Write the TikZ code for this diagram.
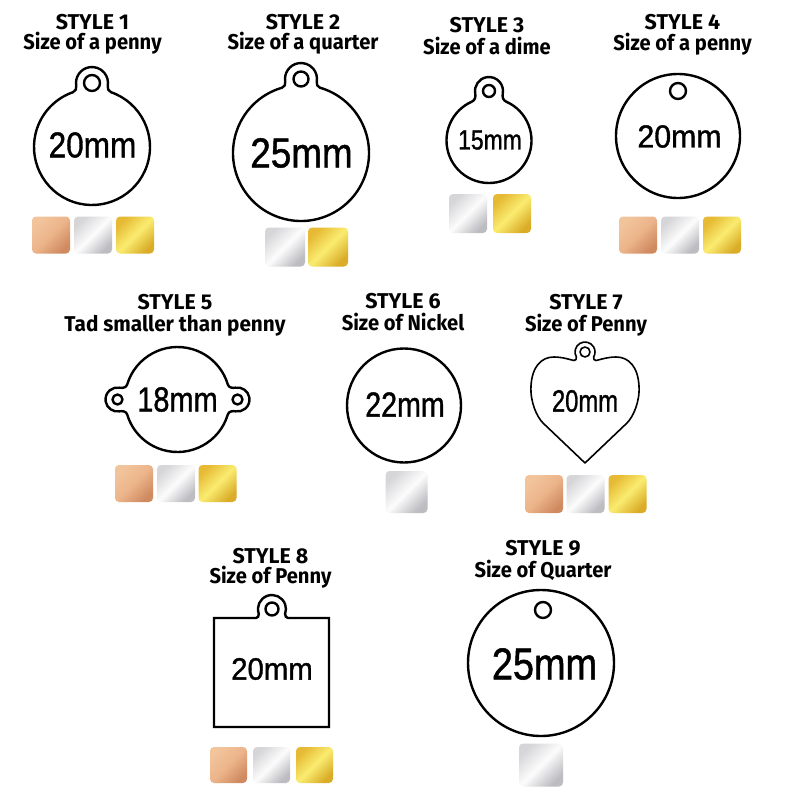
\documentclass[tikz,border=0pt]{standalone}
\usepackage{fontspec}
\newfontfamily\titlefont{Fira Sans}
\newfontfamily\sizefont{Liberation Sans}[FakeBold=1.2]

\definecolor{cuA}{RGB}{242,196,156}
\definecolor{cuB}{RGB}{236,180,138}
\definecolor{cuC}{RGB}{208,138,96}
\definecolor{agA}{RGB}{214,214,217}
\definecolor{agB}{RGB}{252,252,252}
\definecolor{agC}{RGB}{188,188,193}
\definecolor{auA}{RGB}{230,186,52}
\definecolor{auB}{RGB}{250,236,112}
\definecolor{auC}{RGB}{218,172,40}

\tikzset{
  pics/pendant/.style args={#1/#2/#3/#4}{code={
    \pgfmathsetmacro\al{asin((#3+3)/#1)}
    \pgfmathsetmacro\lx{-#3*cos(10)}
    \pgfmathsetmacro\ly{#2-#3*sin(10)}
    \pgfmathsetmacro\oa{180-\al}
    \draw[tagline] (90+\al:#1) to[out=\al,in=-80] (\lx,\ly)
      arc[start angle=190,end angle=-10,radius=#3]
      to[out=-100,in=\oa] (90-\al:#1)
      arc[start angle=90-\al,end angle=-270+\al,radius=#1] -- cycle;
    \draw[tagline] (0,#2) circle[radius=#4];
  }}
}

\begin{document}
\begin{tikzpicture}[x=1bp,y=1bp,
    tagline/.style={line width=2.4bp,line join=round},
    heartline/.style={line width=1.6bp,line join=round},
    title/.style={anchor=base,inner sep=0,font=\titlefont\bfseries\fontsize{21.5}{24}\selectfont},
    sub/.style={title,xscale=0.94},
    mmlabel/.style args={#1/#2}{inner sep=0,xscale=#2,font=\sizefont\fontsize{#1}{#1}\selectfont},
    metal/.style={rounded corners=4bp,minimum width=38bp,minimum height=37bp,inner sep=0},
    copper/.style={metal,top color=cuA,bottom color=cuC,middle color=cuB,shading angle=45},
    silver/.style={metal,top color=agA,bottom color=agC,middle color=agB,shading angle=45},
    gold/.style={metal,top color=auA,bottom color=auC,middle color=auB,shading angle=45}]
  \useasboundingbox (0,0) rectangle (794,-794);
  \fill[white] (0,0) rectangle (794,-794);

  % style 1
  \node[title] (t1) at (92.5,-30) {STYLE 1};
  \node[sub]   (s1) at (92.5,-50) {Size of a penny};
  \pic (p1) at (92,-147) {pendant=58/64/16/8};
  \node[mmlabel=36/0.88] (m1) at (92.5,-145) {20mm};
  \node[copper] (c1a) at (51,-235)  {};
  \node[silver] (c1b) at (93,-235)  {};
  \node[gold]   (c1c) at (135,-235) {};

  % style 2
  \node[title] (t2) at (303,-30) {STYLE 2};
  \node[sub]   (s2) at (303,-50) {Size of a quarter};
  \pic (p2) at (301,-153) {pendant=68/74/16/7.5};
  \node[mmlabel=42/0.88] (m2) at (301.5,-153) {25mm};
  \node[silver,minimum width=40bp,minimum height=39bp] (c2b) at (285,-247) {};
  \node[gold,minimum width=40bp,minimum height=39bp]   (c2c) at (328,-247) {};

  % style 3
  \node[title] (t3) at (487,-33) {STYLE 3};
  \node[sub]   (s3) at (487,-55) {Size of a dime};
  \pic (p3) at (489,-140.5) {pendant=42.5/49.5/14/6};
  \node[mmlabel=28/0.82] (m3) at (490,-140) {15mm};
  \node[silver,minimum height=39bp] (c3b) at (468,-213.5) {};
  \node[gold,minimum height=39bp]   (c3c) at (512,-213.5) {};

  % style 4
  \node[title] (t4) at (682.5,-30) {STYLE 4};
  \node[sub]   (s4) at (682.5,-51) {Size of a penny};
  \draw[tagline] (678,-136) circle[radius=62];
  \draw[tagline] (678,-91) circle[radius=8];
  \node[mmlabel=32/0.95] (m4) at (679.5,-136.5) {20mm};
  \node[copper] (c4a) at (638,-235) {};
  \node[silver] (c4b) at (680,-235) {};
  \node[gold]   (c4c) at (722,-235) {};

  % style 5
  \node[title] (t5) at (175,-309) {STYLE 5};
  \node[sub,xscale=1.03] (s5) at (175,-331) {Tad smaller than penny};
  \begin{scope}[shift={(177.5,-399.5)}]
    \pgfmathsetmacro\bt{asin(15/52.5)}
    \pgfmathsetmacro\rx{60+12*cos(100)}
    \pgfmathsetmacro\ry{12*sin(100)}
    \pgfmathsetmacro\ra{\bt-90}
    \pgfmathsetmacro\rb{90-\bt}
    \pgfmathsetmacro\la{\bt+90}
    \pgfmathsetmacro\lb{270-\bt}
    \draw[tagline] (\bt:52.5) to[out=\ra,in=-170] (\rx,\ry)
      arc[start angle=100,end angle=-100,radius=12]
      to[out=-190,in=\rb] (-\bt:52.5)
      arc[start angle=-\bt,end angle=-180+\bt,radius=52.5]
      to[out=\la,in=10] (-\rx,-\ry)
      arc[start angle=280,end angle=80,radius=12]
      to[out=-10,in=\lb] (180-\bt:52.5)
      arc[start angle=180-\bt,end angle=\bt,radius=52.5] -- cycle;
    \draw[tagline] (60,0) circle[radius=5] (-60,0) circle[radius=5];
  \end{scope}
  \node[mmlabel=35/0.83] (m5) at (177.5,-399.5) {18mm};
  \node[copper] (c5a) at (134,-483.5)   {};
  \node[silver] (c5b) at (176,-483.5)   {};
  \node[gold]   (c5c) at (217.5,-483.5) {};

  % style 6
  \node[title] (t6) at (403,-308) {STYLE 6};
  \node[sub]   (s6) at (403,-330) {Size of Nickel};
  \draw[tagline] (404,-405.5) circle[radius=57];
  \node[mmlabel=35/0.82] (m6) at (405,-404.5) {22mm};
  \node[silver,minimum width=42bp,minimum height=42bp] (c6b) at (406.5,-492) {};

  % style 7
  \node[title] (t7) at (586,-309) {STYLE 7};
  \node[sub]   (s7) at (586,-331) {Size of Penny};
  \begin{scope}[shift={(585,-400)}]
    \draw[heartline] (0,-63) -- (-42,-23) .. controls (-48,-17) and (-55,-2) .. (-54,14)
      .. controls (-53,33) and (-44,43) .. (-31,43) .. controls (-22,43) and (-14,40) .. (-11,39.5)
      .. controls (-9,39.5) and (-8.5,41) .. (-8.66,43)
      arc[start angle=210,end angle=-30,radius=10]
      .. controls (8.5,41) and (9,39.5) .. (11,39.5) .. controls (14,40) and (22,43) .. (31,43)
      .. controls (44,43) and (53,33) .. (54,14) .. controls (55,-2) and (48,-17) .. (42,-23) -- cycle;
    \draw[heartline] (0,48) circle[radius=5];
  \end{scope}
  \node[mmlabel=31/0.77] (m7) at (585,-401) {20mm};
  \node[copper,minimum height=38bp] (c7a) at (544,-494)   {};
  \node[silver,minimum height=38bp] (c7b) at (585.5,-494) {};
  \node[gold,minimum height=38bp]   (c7c) at (627.5,-494) {};

  % style 8
  \node[title] (t8) at (270.5,-563) {STYLE 8};
  \node[sub]   (s8) at (270.5,-583) {Size of Penny};
  \draw[tagline,line join=miter] (214,-727) -- (214,-618) -- (256,-618)
    .. controls (258,-618) and (258.8,-616) .. (258.8,-613.8)
    arc[start angle=200,end angle=-20,radius=14]
    .. controls (285.2,-616) and (286,-618) .. (288,-618) -- (329,-618) -- (329,-727) -- cycle;
  \draw[tagline] (272,-609) circle[radius=6.5];
  \node[mmlabel=31/0.95] (m8) at (272,-669) {20mm};
  \node[copper,minimum width=37bp,minimum height=36bp] (c8a) at (228.5,-765) {};
  \node[silver,minimum width=37bp,minimum height=36bp] (c8b) at (271.5,-765) {};
  \node[gold,minimum width=37bp,minimum height=36bp]   (c8c) at (314.5,-765) {};

  % style 9
  \node[title] (t9) at (543,-555) {STYLE 9};
  \node[sub]   (s9) at (543,-577) {Size of Quarter};
  \draw[tagline] (541,-663) circle[radius=73];
  \draw[tagline] (543,-610) circle[radius=8];
  \node[mmlabel=44.7/0.85] (m9) at (544.5,-664) {25mm};
  \node[silver,minimum width=44bp,minimum height=43bp] (c9b) at (541,-765) {};
\end{tikzpicture}
\end{document}
